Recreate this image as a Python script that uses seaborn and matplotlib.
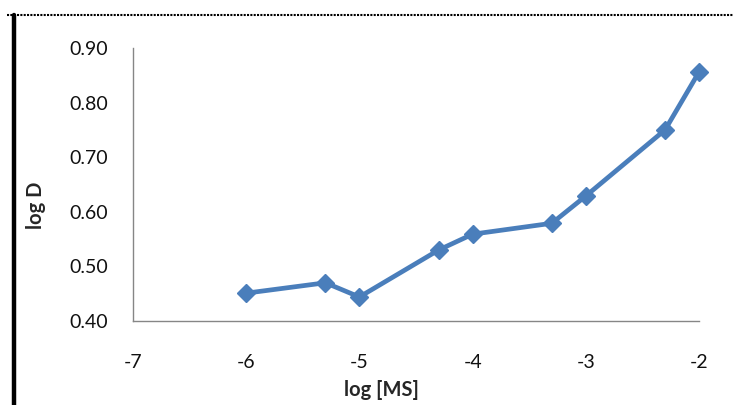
import numpy as np
import pandas as pd
import matplotlib
matplotlib.use("Agg")
import matplotlib.pyplot as plt
import seaborn as sns
from matplotlib.lines import Line2D

# data
log_ms = [-6.0, -5.3, -5.0, -4.3, -4.0, -3.3, -3.0, -2.3, -2.0]
log_d = [0.451, 0.470, 0.444, 0.530, 0.559, 0.579, 0.629, 0.750, 0.856]
x_ticks = [-7, -6, -5, -4, -3, -2]
y_ticks = [0.40, 0.50, 0.60, 0.70, 0.80, 0.90]

df = pd.DataFrame({"log [MS]": log_ms, "log D": log_d})

sns.set_style("white")
plt.rcParams["font.family"] = ["Lato", "DejaVu Sans"]

fig = plt.figure(figsize=(7.33, 4.05), dpi=100)
ax = fig.add_axes([133 / 733, 1 - 321 / 405, (699 - 133) / 733, (321 - 48) / 405])

blue = "#4A7EBB"
sns.lineplot(data=df, x="log [MS]", y="log D", ax=ax, color=blue, lw=3.4,
             marker="D", markersize=9.5, markeredgecolor=blue, markeredgewidth=1,
             solid_joinstyle="round", clip_on=False)

ax.set_xlim(-7, -2)
ax.set_ylim(0.40, 0.90)
ax.set_xticks(x_ticks)
ax.set_xticklabels([f"{t:d}" for t in x_ticks])
ax.set_yticks(y_ticks)
ax.set_yticklabels([f"{t:.2f}" for t in y_ticks])

grey = "#868686"
for side in ["top", "right"]:
    ax.spines[side].set_visible(False)
for side in ["left", "bottom"]:
    ax.spines[side].set_color(grey)
    ax.spines[side].set_linewidth(1.0)
ax.tick_params(axis="both", direction="out", length=5, width=1, color=grey,
               labelsize=14, labelcolor="#111111")
ax.tick_params(axis="y", pad=13)
ax.tick_params(axis="x", pad=19)

ax.set_xlabel("")
ax.set_ylabel("")
fig.text(381 / 733, 1 - 390 / 405, "log [MS]", ha="center", va="center",
         fontsize=14.5, fontweight="bold")
fig.text(36 / 733, 1 - 205 / 405, "log D", ha="center", va="center",
         rotation=90, fontsize=14.5, fontweight="bold")

# frame pieces of the cropped chart area
fig.add_artist(Line2D([14 / 733, 14 / 733], [0, 1 - 15 / 405], color="black",
                      lw=3.2, transform=fig.transFigure))
fig.add_artist(Line2D([7 / 733, 1], [1 - 15 / 405, 1 - 15 / 405], color="black",
                      lw=1.5, ls=(0, (1, 0.6)), transform=fig.transFigure))

fig.savefig("out.png", dpi=100)
